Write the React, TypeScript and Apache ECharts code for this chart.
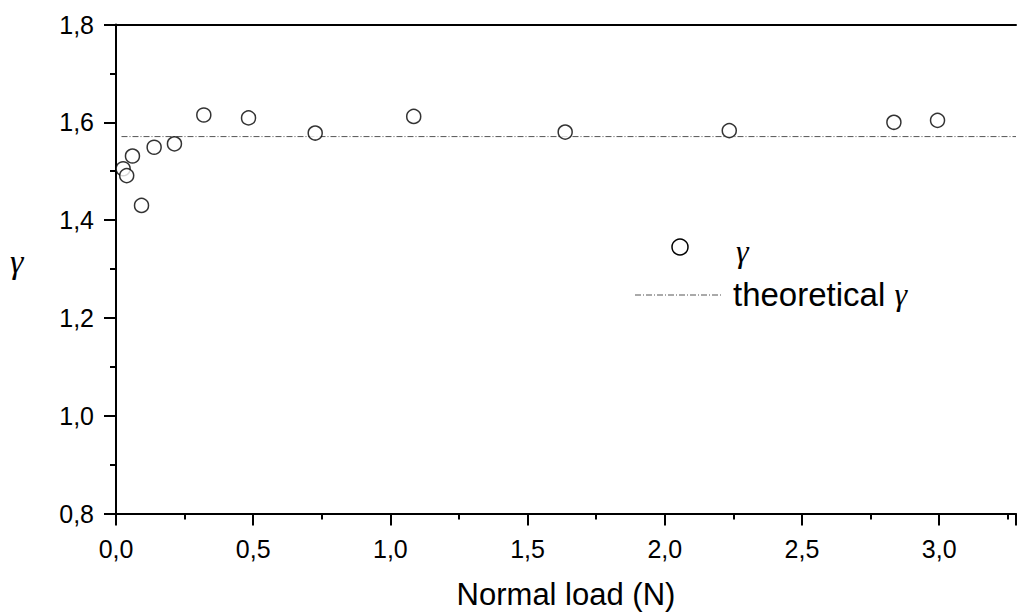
import React, { useEffect, useRef } from "react";
import * as echarts from "echarts";

const loads = [0.026, 0.039, 0.06, 0.093, 0.139, 0.213, 0.32, 0.483, 0.726, 1.085, 1.637, 2.235, 2.835, 2.994];
const gammas = [1.505, 1.491, 1.531, 1.43, 1.549, 1.556, 1.615, 1.609, 1.578, 1.612, 1.58, 1.583, 1.6, 1.604];
const theoreticalGamma = 1.5708;
const theoreticalX = [0.02, 3.28];

const fmt = (v: number) => v.toFixed(1).replace(".", ",");

export default function App() {
  const ref = useRef<HTMLDivElement>(null);
  useEffect(() => {
    if (!ref.current) return;
    const chart = echarts.init(ref.current, undefined, { renderer: "svg" });
    const sans = "Liberation Sans, Arial, sans-serif";
    const serif = "Liberation Serif, Times New Roman, serif";
    chart.setOption({
      animation: false,
      backgroundColor: "#ffffff",
      grid: { left: 116, top: 24.5, right: -20, bottom: 102.5 },
      xAxis: [
        {
          type: "value",
          min: 0,
          max: 3.28,
          interval: 0.5,
          position: "bottom",
          name: "Normal load (N)",
          nameLocation: "middle",
          nameGap: 65,
          nameTextStyle: { fontFamily: sans, fontSize: 31, color: "#000", verticalAlign: "top" },
          axisLine: { show: true, lineStyle: { color: "#000", width: 2 } },
          axisTick: { show: true, length: 12, lineStyle: { color: "#000", width: 2 } },
          minorTick: { show: true, splitNumber: 2, length: 6, lineStyle: { color: "#000", width: 2 } },
          splitLine: { show: false },
          axisLabel: {
            margin: 23,
            fontFamily: sans,
            fontSize: 25,
            color: "#000",
            formatter: (v: number) => (Math.abs(v * 2 - Math.round(v * 2)) < 1e-6 ? fmt(v) : ""),
          },
        },
        {
          type: "value",
          min: 0,
          max: 3.28,
          position: "top",
          axisLine: { show: true, lineStyle: { color: "#000", width: 2 } },
          axisTick: { show: false },
          axisLabel: { show: false },
          splitLine: { show: false },
        },
      ],
      yAxis: {
        type: "value",
        min: 0.8,
        max: 1.8,
        interval: 0.2,
        axisLine: { show: true, lineStyle: { color: "#000", width: 2 } },
        axisTick: { show: true, length: 12, lineStyle: { color: "#000", width: 2 } },
        minorTick: { show: true, splitNumber: 2, length: 6, lineStyle: { color: "#000", width: 2 } },
        splitLine: { show: false },
        axisLabel: { margin: 22, fontFamily: sans, fontSize: 25, color: "#000", formatter: (v: number) => fmt(v) },
      },
      series: [
        {
          type: "line",
          name: "theoretical γ",
          data: theoreticalX.map((x) => [x, theoreticalGamma]),
          symbol: "none",
          lineStyle: { color: "#555", width: 1, type: [6, 2, 1, 2] },
          z: 1,
        },
        {
          type: "scatter",
          name: "γ",
          data: loads.map((x, i) => [x, gammas[i]]),
          symbol: "circle",
          symbolSize: 14,
          itemStyle: { color: "#fff", borderColor: "#000", borderWidth: 1.5 },
          z: 3,
        },
      ],
      graphic: [
        {
          type: "text",
          left: 10,
          top: 244,
          style: { text: "γ", font: `italic 34px ${serif}`, fill: "#000" },
        },
        {
          type: "circle",
          shape: { cx: 680, cy: 247, r: 8 },
          style: { fill: "#fff", stroke: "#000", lineWidth: 1.5 },
        },
        {
          type: "text",
          x: 736,
          y: 251,
          style: { text: "γ", font: `italic 32px ${serif}`, fill: "#000", verticalAlign: "middle" },
        },
        {
          type: "line",
          shape: { x1: 635, y1: 295, x2: 721, y2: 295 },
          style: { stroke: "#555", lineWidth: 1, lineDash: [6, 2, 1, 2] },
        },
        {
          type: "text",
          x: 733,
          y: 294,
          style: {
            text: "{a|theoretical }{b|γ}",
            verticalAlign: "middle",
            rich: {
              a: { fontFamily: sans, fontSize: 33, fill: "#000" },
              b: { fontFamily: serif, fontStyle: "italic", fontSize: 32, fill: "#000" },
            },
          },
        },
      ],
    });
    return () => chart.dispose();
  }, []);
  return <div ref={ref} style={{ position: "fixed", left: 0, top: 0, width: 1019, height: 616 }} />;
}
